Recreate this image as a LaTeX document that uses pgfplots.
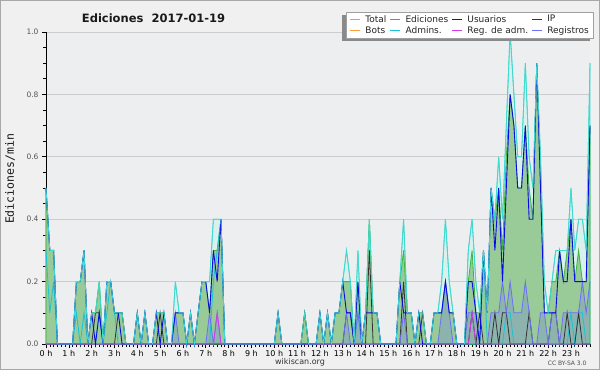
\documentclass[border=0pt]{standalone}
\usepackage{pgfplots}
\pgfplotsset{compat=1.18}
\usepackage{pgfplotstable}
\usepackage{fontspec}
\setmainfont{DejaVu Sans}
\newfontfamily\monofont{DejaVu Sans Mono}
\definecolor{framebg}{HTML}{F0F0F0}
\definecolor{framebd}{HTML}{A8A8A8}
\definecolor{plotbg}{HTML}{EDEEF0}
\definecolor{gridc}{HTML}{CDCDCD}
\definecolor{tickc}{HTML}{555555}
\definecolor{totc}{HTML}{3FD9CF}
\definecolor{totfill}{HTML}{D8F1EE}
\definecolor{edc}{HTML}{3DB43D}
\definecolor{edfill}{HTML}{98CB98}
\definecolor{usc}{HTML}{0A0AE6}
\definecolor{ipc}{HTML}{333333}
\definecolor{botc}{HTML}{FF9F3A}
\definecolor{admc}{HTML}{19C3D6}
\definecolor{radmc}{HTML}{D33BE6}
\definecolor{regc}{HTML}{6E6EF5}
\definecolor{legbd}{HTML}{A0A0A0}
\definecolor{shadc}{HTML}{8A8A8A}

\pgfplotstableread{
i T E U P A R M
0 0.5 0.5 0.5 0 0.3 0 0
1 0.3 0.3 0.3 0 0.1 0 0
2 0.3 0.3 0.3 0 0.2 0 0
3 0 0 0 0 0 0 0
4 0 0 0 0 0 0 0
5 0 0 0 0 0 0 0
6 0 0 0 0 0 0 0
7 0 0 0 0 0 0 0
8 0.2 0.2 0.2 0 0.1 0 0
9 0.2 0.2 0.2 0 0 0 0
10 0.3 0.3 0.3 0 0.1 0 0
11 0 0 0 0 0 0 0
12 0.1 0.1 0.1 0 0 0 0
13 0.1 0.1 0 0.1 0 0 0
14 0.2 0.2 0.1 0.1 0.1 0 0
15 0 0 0 0 0 0 0
16 0.2 0.2 0.2 0 0.1 0 0
17 0.2 0.2 0.2 0 0.2 0 0
18 0.1 0.1 0.1 0 0.1 0 0
19 0.1 0.1 0.1 0.1 0 0 0
20 0.1 0.1 0 0.1 0 0 0
21 0 0 0 0 0 0 0
22 0 0 0 0 0 0 0
23 0 0 0 0 0 0 0
24 0.1 0.1 0.1 0 0 0 0
25 0 0 0 0 0 0 0
26 0.1 0.1 0.1 0 0 0 0
27 0 0 0 0 0 0 0
28 0 0 0 0 0 0 0
29 0.1 0.1 0.1 0 0 0 0
30 0.1 0.1 0 0.1 0 0 0
31 0.1 0.1 0.1 0 0 0 0
32 0 0 0 0 0 0 0
33 0 0 0 0 0 0 0
34 0.2 0.1 0.1 0 0 0.1 0
35 0.1 0.1 0.1 0 0 0 0
36 0.1 0.1 0.1 0 0 0 0
37 0 0 0 0 0 0 0
38 0.1 0.1 0.1 0 0 0 0
39 0 0 0 0 0 0 0
40 0.1 0.1 0.1 0 0 0 0
41 0.2 0.2 0.2 0 0 0 0
42 0.2 0.2 0.2 0 0 0 0
43 0.2 0.1 0.1 0 0 0.1 0
44 0.4 0.3 0.3 0 0.2 0 0
45 0.4 0.3 0.2 0 0.3 0.1 0.1
46 0.4 0.4 0.4 0 0.4 0 0
47 0 0 0 0 0 0 0
48 0 0 0 0 0 0 0
49 0 0 0 0 0 0 0
50 0 0 0 0 0 0 0
51 0 0 0 0 0 0 0
52 0 0 0 0 0 0 0
53 0 0 0 0 0 0 0
54 0 0 0 0 0 0 0
55 0 0 0 0 0 0 0
56 0 0 0 0 0 0 0
57 0 0 0 0 0 0 0
58 0 0 0 0 0 0 0
59 0 0 0 0 0 0 0
60 0 0 0 0 0 0 0
61 0.1 0.1 0.1 0 0 0 0
62 0 0 0 0 0 0 0
63 0 0 0 0 0 0 0
64 0 0 0 0 0 0 0
65 0 0 0 0 0 0 0
66 0 0 0 0 0 0 0
67 0 0 0 0 0 0 0
68 0.1 0.1 0 0.1 0 0 0
69 0 0 0 0 0 0 0
70 0 0 0 0 0 0 0
71 0 0 0 0 0 0 0
72 0.1 0.1 0.1 0 0 0 0
73 0 0 0 0 0 0 0
74 0.1 0.1 0.1 0 0 0 0
75 0 0 0 0 0 0 0
76 0.1 0.1 0.1 0 0 0 0
77 0.1 0.1 0.1 0 0 0 0
78 0.2 0.2 0.2 0 0 0 0
79 0.3 0.2 0.1 0.1 0 0.1 0
80 0.2 0.2 0.1 0.1 0 0 0
81 0 0 0 0 0 0 0
82 0.3 0.2 0.2 0 0.1 0.1 0
83 0 0 0 0 0 0 0
84 0.1 0.1 0.1 0 0 0 0
85 0.4 0.4 0.1 0.3 0 0 0
86 0.1 0.1 0.1 0 0 0 0
87 0.1 0.1 0.1 0 0 0 0
88 0 0 0 0 0 0 0
89 0 0 0 0 0 0 0
90 0 0 0 0 0 0 0
91 0 0 0 0 0 0 0
92 0 0 0 0 0 0 0
93 0.2 0.2 0.2 0 0 0 0
94 0.4 0.3 0.1 0.2 0 0.1 0
95 0.1 0.1 0.1 0 0 0 0
96 0.1 0.1 0.1 0 0 0 0
97 0 0 0 0 0 0 0
98 0.1 0.1 0.1 0 0 0 0
99 0.1 0.1 0 0.1 0 0 0
100 0 0 0 0 0 0 0
101 0 0 0 0 0 0 0
102 0.1 0.1 0.1 0 0 0 0
103 0.1 0.1 0.1 0 0 0 0
104 0.2 0.1 0.1 0 0 0.1 0
105 0.4 0.2 0.2 0 0 0.2 0
106 0.2 0.1 0.1 0 0 0.1 0
107 0.1 0.1 0.1 0 0 0 0
108 0 0 0 0 0 0 0
109 0 0 0 0 0 0 0
110 0 0 0 0 0 0 0
111 0.3 0.2 0.2 0 0 0.1 0
112 0.4 0.3 0.2 0.1 0 0.1 0.1
113 0.2 0.1 0.1 0 0 0.1 0
114 0.1 0.1 0 0.1 0 0 0
115 0.3 0.3 0.3 0 0.3 0 0
116 0.1 0.1 0.1 0 0 0 0
117 0.5 0.5 0.5 0 0 0.1 0
118 0.4 0.4 0.3 0.1 0 0.1 0
119 0.6 0.5 0.5 0 0 0.1 0
120 0.4 0.3 0.2 0.1 0 0.2 0
121 0.7 0.6 0.5 0.1 0.1 0.1 0
122 1.0 0.8 0.8 0 0.1 0.2 0
123 0.8 0.7 0.7 0 0 0.1 0
124 0.6 0.5 0.5 0 0 0.1 0
125 0.6 0.5 0.5 0 0 0.1 0
126 0.9 0.7 0.7 0 0 0.2 0
127 0.6 0.5 0.4 0.1 0 0.1 0
128 0.5 0.4 0.4 0 0 0 0
129 0.9 0.9 0.9 0 0 0 0
130 0.6 0.5 0.5 0 0 0.1 0
131 0.2 0.1 0.1 0 0 0.1 0
132 0.1 0.1 0.1 0 0 0 0
133 0.2 0.2 0.1 0.1 0 0.1 0
134 0.3 0.2 0.1 0.1 0 0.1 0
135 0.3 0.3 0.3 0 0 0 0
136 0.3 0.2 0.2 0 0 0.1 0
137 0.3 0.3 0.2 0.1 0 0.1 0
138 0.5 0.4 0.4 0 0.1 0.1 0
139 0.3 0.2 0.2 0 0 0.1 0
140 0.4 0.3 0.2 0.1 0.1 0.1 0
141 0.4 0.2 0.2 0 0.1 0.2 0
142 0.3 0.2 0.2 0 0 0.1 0
143 0.9 0.7 0.7 0 0 0.2 0
}\data

\begin{document}
\begin{tikzpicture}[x=1pt,y=1pt]
\useasboundingbox (-46,-26) rectangle (554,344);
\fill[framebg] (-46,-26) rectangle (554,344);
\draw[framebd, line width=1pt] (-45.5,-25.5) rectangle (553.5,343.5);
\begin{axis}[
  at={(0,0)}, anchor=south west,
  scale only axis, width=544pt, height=312pt,
  xmin=0, xmax=143, ymin=0, ymax=1,
  enlargelimits=false,
  clip=false,
  axis lines*=left,
  axis line style={black, line width=0.9pt},
  axis background/.style={fill=plotbg},
  no markers,
  xtick={0,6,...,138},
  xticklabels={0 h,1 h,2 h,3 h,4 h,5 h,6 h,7 h,8 h,9 h,10 h,11 h,12 h,13 h,14 h,15 h,16 h,17 h,18 h,19 h,20 h,21 h,22 h,23 h},
  minor xtick={0,1,...,143},
  ytick={0,0.2,0.4,0.6,0.8,1.0},
  minor ytick={0.05,0.1,0.15,0.25,0.3,0.35,0.45,0.5,0.55,0.65,0.7,0.75,0.85,0.9,0.95},
  tick align=outside,
  major tick length=4pt, minor tick length=3pt,
  tick style={black, line width=0.6pt},
  ymajorgrids, major grid style={gridc, line width=0.7pt},
  yticklabel style={font=\fontsize{7.5}{9}\selectfont, text=tickc, /pgf/number format/.cd, fixed, fixed zerofill, precision=1, assume math mode=true},
  xticklabel style={font=\fontsize{8}{9}\selectfont, text=black, yshift=1.5pt},
  ylabel={Ediciones/min},
  ylabel style={at={(axis description cs:-0.066,0.529)}, anchor=center, font=\monofont\fontsize{11.5}{13}\selectfont, text=black!90},
  legend columns=4,
  legend cell align=left,
  legend image code/.code={\draw[#1, line width=0.8pt] (0pt,0pt) -- (10pt,0pt);},
  legend style={at={(axis description cs:1.0055,1.064)}, anchor=north east,
    draw=legbd, fill=white, font=\fontsize{9}{10}\selectfont, text=black!85,
    inner xsep=3pt, inner ysep=2pt, row sep=1pt,
    nodes={inner xsep=1pt, inner ysep=1pt},
    /tikz/every odd column/.append style={column sep=4pt},
    /tikz/every even column/.append style={column sep=2.3pt}},
]
\addplot[draw=totc, fill=totfill, line width=0.8pt, forget plot] table[x=i,y=T]{\data} \closedcycle;
\addplot[draw=edc, fill=edfill, line width=0.8pt, forget plot] table[x=i,y=E]{\data} \closedcycle;
\addplot[draw=none, fill=regc, fill opacity=0.25, forget plot] table[x=i,y=R]{\data} \closedcycle;
\addplot[admc, line width=0.8pt, forget plot] table[x=i,y=A]{\data};
\addplot[ipc, line width=0.8pt, forget plot] table[x=i,y=P]{\data};
\addplot[regc, line width=0.8pt, forget plot] table[x=i,y=R]{\data};
\addplot[radmc, line width=0.8pt, forget plot] table[x=i,y=M]{\data};
\addplot[usc, line width=0.9pt, forget plot] table[x=i,y=U]{\data};
\addplot[totc, line width=0.8pt, forget plot] table[x=i,y=T]{\data};

\addlegendimage{totc}\addlegendentry{Total}
\addlegendimage{edc}\addlegendentry{Ediciones}
\addlegendimage{usc}\addlegendentry{Usuarios}
\addlegendimage{ipc}\addlegendentry{IP}
\addlegendimage{botc}\addlegendentry{Bots}
\addlegendimage{admc}\addlegendentry{Admins.}
\addlegendimage{radmc}\addlegendentry{Reg. de adm.}
\addlegendimage{regc}\addlegendentry{Registros}

\fill[shadc] (axis description cs:0.5441,0.9712) rectangle (axis description cs:1.0,1.0545);
\node[font=\fontsize{11.5}{14}\selectfont\bfseries, text=black!90] at (axis description cs:0.1976,1.045) {Ediciones\hspace{0.7em}2017-01-19};
\node[font=\fontsize{8}{10}\selectfont, text=black!80] at (axis description cs:0.467,-0.058) {wikiscan.org};
\node[font=\fontsize{6}{7}\selectfont, text=black!70] at (axis description cs:0.958,-0.061) {CC BY-SA 3.0};
\end{axis}
\end{tikzpicture}
\end{document}
